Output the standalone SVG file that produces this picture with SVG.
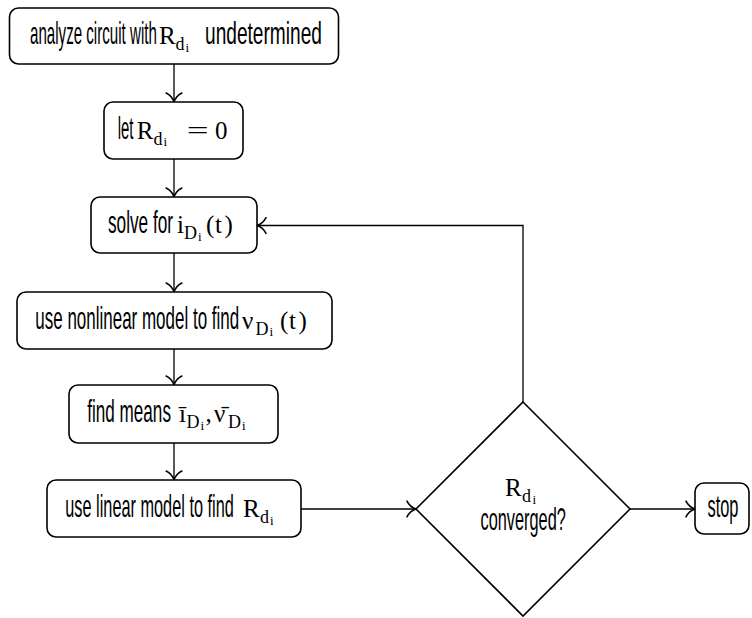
<svg xmlns="http://www.w3.org/2000/svg" width="752" height="618" viewBox="0 0 752 618">
<style>
.box{fill:#fff;stroke:#000;stroke-width:1.6}
.edge{fill:none;stroke:#000;stroke-width:1.3}
.t{font-family:"Liberation Sans",Arial,sans-serif;font-size:31px;fill:#000}
.m{font-family:"Liberation Serif","Times New Roman",serif;font-size:25px;fill:#000}
.s{font-size:18px}
.ss{font-size:13px}
</style>
<defs>
<marker id="arr" markerUnits="userSpaceOnUse" markerWidth="16" markerHeight="18" viewBox="-10 -8 12 16" refX="0" refY="0" orient="auto">
<path d="M -8 -7 C -6 -3 -2.5 -0.8 0 0 C -2.5 0.8 -6 3 -8 7" fill="none" stroke="#000" stroke-width="1.4" stroke-linecap="round"/>
</marker>
</defs>
<rect width="752" height="618" fill="#fff"/>
<g id="connectors">
<path class="edge" d="M174 64 V102" marker-end="url(#arr)"/>
<path class="edge" d="M174 159 V197" marker-end="url(#arr)"/>
<path class="edge" d="M174 253 V292" marker-end="url(#arr)"/>
<path class="edge" d="M174 349 V385" marker-end="url(#arr)"/>
<path class="edge" d="M174 443 V480" marker-end="url(#arr)"/>
<path class="edge" d="M301 509 H416" marker-end="url(#arr)"/>
<path class="edge" d="M630 509 H695" marker-end="url(#arr)"/>
<path class="edge" d="M523 402 V225.5 H257" marker-end="url(#arr)"/>
</g>
<g id="n1">
<rect class="box" x="9.5" y="8" width="329" height="56" rx="9"/>
<text class="t" transform="translate(30 44) scale(0.488 1)">analyze circuit with</text>
<text class="m" y="44"><tspan x="159">R</tspan><tspan class="s" x="175.5" y="50">d</tspan><tspan class="ss" x="185.5" y="51.5">i</tspan></text>
<text class="t" transform="translate(205 44) scale(0.617 1)">undetermined</text>
</g>
<g id="n2">
<rect class="box" x="104" y="102" width="139" height="57" rx="9"/>
<text class="t" transform="translate(117.7 138.5) scale(0.48 1)">let</text>
<text class="m" y="138.5"><tspan x="136.7">R</tspan><tspan class="s" x="153.5" y="144.5">d</tspan><tspan class="ss" x="163.5" y="146">i</tspan></text>
<text class="m" transform="translate(186.7 138.5) scale(1.55 1)">=</text>
<text class="m" x="215" y="138.5">0</text>
</g>
<g id="n3">
<rect class="box" x="91" y="197" width="166" height="56" rx="9"/>
<text class="t" transform="translate(108 233) scale(0.555 1)">solve for</text>
<text class="m" y="233"><tspan x="177">i</tspan><tspan class="s" x="184" y="239">D</tspan><tspan class="ss" x="198" y="240.5">i</tspan><tspan x="206" y="233">(</tspan><tspan x="215">t</tspan><tspan x="224.5">)</tspan></text>
</g>
<g id="n4">
<rect class="box" x="17" y="292" width="315" height="57" rx="9"/>
<text class="t" transform="translate(35.3 328.5) scale(0.548 1)">use nonlinear model to find</text>
<text class="m" y="328.5"><tspan x="242">ν</tspan><tspan class="s" x="255.5" y="334.5">D</tspan><tspan class="ss" x="269.5" y="336">i</tspan><tspan x="280" y="328.5">(</tspan><tspan x="289">t</tspan><tspan x="298.5">)</tspan></text>
</g>
<g id="n5">
<rect class="box" x="69" y="385" width="209" height="58" rx="9"/>
<text class="t" transform="translate(87.3 422) scale(0.552 1)">find means</text>
<text class="m" y="422"><tspan x="179">ī</tspan><tspan class="s" x="186.5" y="428">D</tspan><tspan class="ss" x="200.5" y="429.5">i</tspan><tspan x="205.5" y="422">,</tspan><tspan x="214">ν̄</tspan><tspan class="s" x="228" y="428">D</tspan><tspan class="ss" x="242" y="429.5">i</tspan></text>
</g>
<g id="n6">
<rect class="box" x="47" y="480" width="254" height="57" rx="9"/>
<text class="t" transform="translate(65.3 517) scale(0.526 1)">use linear model to find</text>
<text class="m" y="517"><tspan x="243">R</tspan><tspan class="s" x="260" y="523">d</tspan><tspan class="ss" x="270" y="524.5">i</tspan></text>
</g>
<g id="decision">
<polygon class="box" points="523,402 630,509 523,616 416,509"/>
<text class="m" y="496"><tspan x="505">R</tspan><tspan class="s" x="522" y="502">d</tspan><tspan class="ss" x="532.5" y="503.5">i</tspan></text>
<text class="t" transform="translate(480.5 529.5) scale(0.527 1)">converged?</text>
</g>
<g id="stop">
<rect class="box" x="695" y="483" width="54" height="51" rx="9"/>
<text class="t" transform="translate(707.5 516.5) scale(0.529 1)">stop</text>
</g>
</svg>
